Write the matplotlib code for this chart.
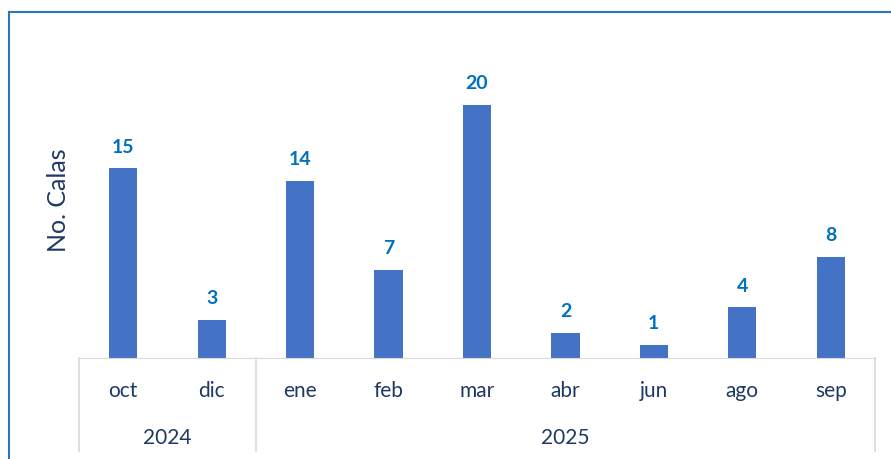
import matplotlib.pyplot as plt
from matplotlib.lines import Line2D

plt.rcParams['font.family'] = ['Lato', 'DejaVu Sans']

months = ["oct", "dic", "ene", "feb", "mar", "abr", "jun", "ago", "sep"]
calas = [15, 3, 14, 7, 20, 2, 1, 4, 8]
years = ["2024", "2025"]
months_per_year = [2, 7]

bar_color = "#4472C4"
label_color = "#0070C0"
text_color = "#1F3864"
grid_color = "#D9D9D9"
frame_color = "#2E75B6"

fig = plt.figure(figsize=(8.91, 4.60), dpi=100)
ax = fig.add_axes([79 / 891, 101 / 460, 796 / 891, 316 / 460])

x = list(range(len(months)))
ax.bar(x, calas, width=0.32, color=bar_color)
ax.set_xlim(-0.5, len(months) - 0.5)
ax.set_ylim(0, 25)

for xi, v in zip(x, calas):
    ax.annotate(str(v), (xi, v), xytext=(0, 10), textcoords="offset points",
                ha="center", va="bottom", fontsize=14, fontweight="bold",
                color=label_color)

for s in ["top", "right", "left"]:
    ax.spines[s].set_visible(False)
ax.spines["bottom"].set_color(grid_color)
ax.set_yticks([])
ax.set_xticks([])

# month labels and year groups below the axis
for xi, m in zip(x, months):
    ax.text(xi, -0.1, m, transform=ax.get_xaxis_transform(), ha="center",
            va="center", fontsize=15, color=text_color)

start = 0
seps = [-0.5]
for yr, n in zip(years, months_per_year):
    mid = start + (n - 1) / 2
    ax.text(mid, -0.25, yr, transform=ax.get_xaxis_transform(), ha="center",
            va="center", fontsize=15, color=text_color)
    start += n
    seps.append(start - 0.5)
for s in seps:
    ax.plot([s, s], [0, -0.295], transform=ax.get_xaxis_transform(),
            color=grid_color, lw=1.2, clip_on=False)

fig.text(59 / 891, 1 - 200 / 460, "No. Calas", rotation=90, ha="center",
         va="center", fontsize=18, color=text_color)

# outer frame (top and left edge)
fig.add_artist(Line2D([9 / 891, 1], [1 - 13 / 460, 1 - 13 / 460],
                      transform=fig.transFigure, color=frame_color, lw=1.5))
fig.add_artist(Line2D([9 / 891, 9 / 891], [0, 1 - 13 / 460],
                      transform=fig.transFigure, color=frame_color, lw=1.5))

fig.savefig("out.png", dpi=100)
